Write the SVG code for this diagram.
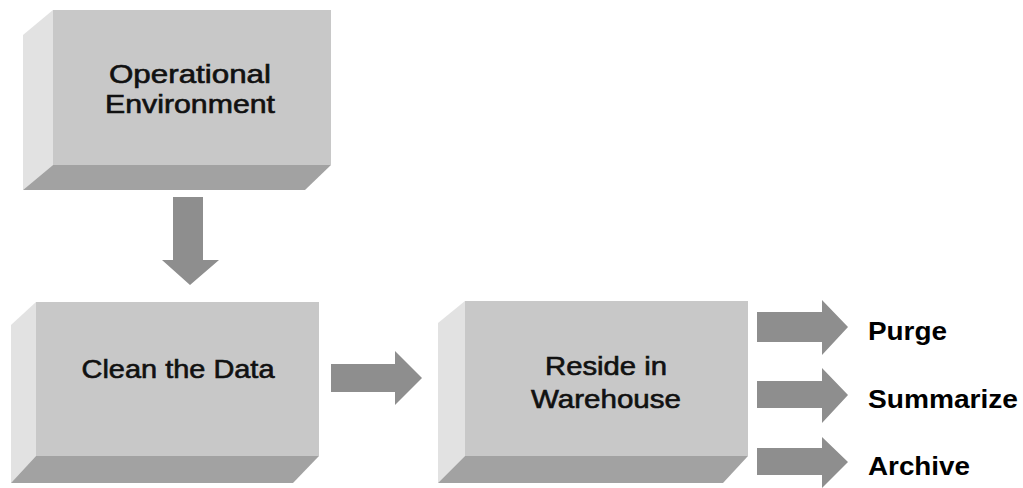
<svg xmlns="http://www.w3.org/2000/svg" width="1023" height="488" viewBox="0 0 1023 488">
<style>
.front{fill:#c8c8c8}
.side{fill:#e2e2e2}
.bottom{fill:#a2a2a2}
.arrow{fill:#8e8e8e}
.bt{font-family:"Liberation Sans",Arial,sans-serif;font-size:25px;fill:#111;stroke:#111;stroke-width:0.6}
.lt{font-family:"Liberation Sans",Arial,sans-serif;font-size:25px;font-weight:bold;fill:#000}
</style>
<rect width="1023" height="488" fill="#ffffff"/>
<g id="node-operational">
<polygon class="side" points="23,35 53,10 53,165 23,190"/>
<polygon class="bottom" points="53,165 331,165 305,190 23,190"/>
<rect class="front" x="53" y="10" width="278" height="155"/>
<text class="bt" x="190" y="83" text-anchor="middle" textLength="162" lengthAdjust="spacingAndGlyphs">Operational</text>
<text class="bt" x="190" y="113" text-anchor="middle" textLength="170" lengthAdjust="spacingAndGlyphs">Environment</text>
</g>
<g id="node-clean">
<polygon class="side" points="11,325 36,302 36,456 11,483"/>
<polygon class="bottom" points="36,456 319,456 293,483 11,483"/>
<rect class="front" x="36" y="302" width="283" height="154"/>
<text class="bt" x="178" y="378" text-anchor="middle" textLength="193" lengthAdjust="spacingAndGlyphs">Clean the Data</text>
</g>
<g id="node-warehouse">
<polygon class="side" points="438,323 465,301 465,456 438,483"/>
<polygon class="bottom" points="465,456 748,456 723,483 438,483"/>
<rect class="front" x="465" y="301" width="283" height="155"/>
<text class="bt" x="606" y="375" text-anchor="middle" textLength="122" lengthAdjust="spacingAndGlyphs">Reside in</text>
<text class="bt" x="606" y="408" text-anchor="middle" textLength="150" lengthAdjust="spacingAndGlyphs">Warehouse</text>
</g>
<g id="node-purge"><text class="lt" x="868" y="340" textLength="79" lengthAdjust="spacingAndGlyphs">Purge</text></g>
<g id="node-summarize"><text class="lt" x="868" y="408" textLength="150" lengthAdjust="spacingAndGlyphs">Summarize</text></g>
<g id="node-archive"><text class="lt" x="868" y="475" textLength="102" lengthAdjust="spacingAndGlyphs">Archive</text></g>
<g id="connectors">
<polygon class="arrow" points="173,197 203,197 203,260 219,260 190,285 162,260 173,260"/>
<polygon class="arrow" points="331,364 395,364 395,351 422,378 395,405 395,392 331,392"/>
<polygon class="arrow" points="757,312 822,312 822,300 848,327 822,355 822,342 757,342"/>
<polygon class="arrow" points="757,381 822,381 822,368 848,395 822,423 822,408 757,408"/>
<polygon class="arrow" points="757,448 822,448 822,437 848,462 822,488 822,475 757,475"/>
</g>
</svg>
